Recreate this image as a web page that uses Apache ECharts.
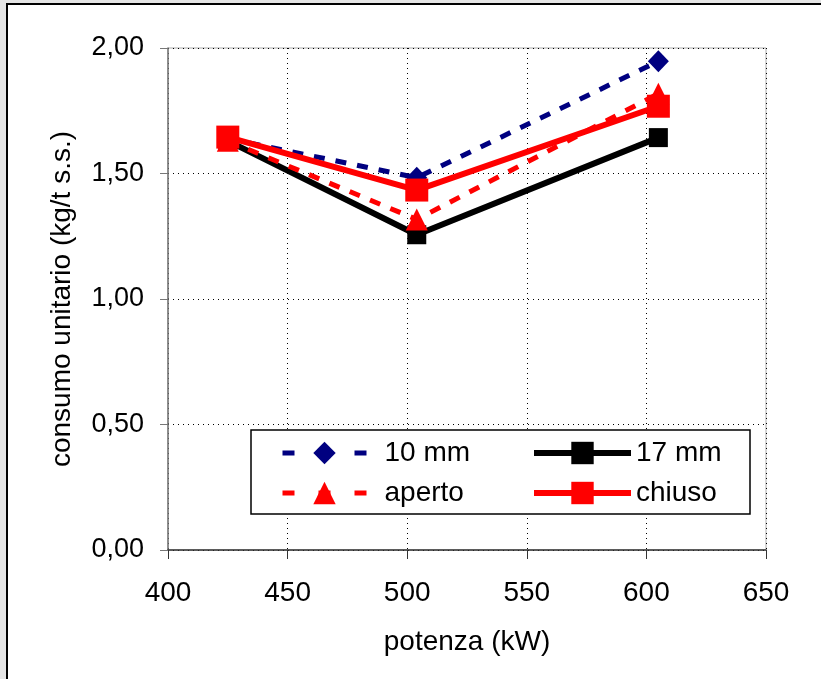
<!DOCTYPE html>
<html>
<head>
<meta charset="utf-8">
<script src="https://cdn.jsdelivr.net/npm/echarts@6/dist/echarts.min.js"></script>
<style>
  html, body { margin: 0; padding: 0; background: #e4e4e4; }
  #frame { position: absolute; left: 6px; top: 3px; width: 821px; height: 679px;
           background: #fff; border-left: 2px solid #000; border-top: 2px solid #000; }
  #chart { position: absolute; left: 0; top: 0; width: 821px; height: 679px; }
</style>
</head>
<body>
<div id="frame"></div>
<div id="chart"></div>
<script>
// dati
var potenza = [425, 504, 605]
var serie10mm = [1.64, 1.483, 1.947]
var serie17mm = [1.63, 1.256, 1.643]
var serieAperto = [1.63, 1.317, 1.818]
var serieChiuso = [1.645, 1.434, 1.768]
var nomi = ['10 mm', '17 mm', 'aperto', 'chiuso']

function punti (ys) {
  return potenza.map(function (x, i) { return [x, ys[i]] })
}

var font = 'Liberation Sans, Arial, sans-serif'
var chart = echarts.init(document.getElementById('chart'))

chart.setOption({
  backgroundColor: 'transparent',
  animation: false,
  grid: {
    left: 168, right: 55, top: 48, bottom: 129,
    show: true, borderColor: '#aaa', borderWidth: 1
  },
  graphic: [{
    type: 'rect',
    z: 3,
    shape: { x: 251, y: 430, width: 499, height: 84 },
    style: { fill: '#fff', stroke: '#000', lineWidth: 1.5 }
  }],
  legend: [{
    data: [nomi[0], nomi[2]],
    orient: 'vertical',
    left: 275, top: 434,
    itemWidth: 84, itemHeight: 28, itemGap: 12,
    z: 10,
    lineStyle: { width: 5, type: [12, 24] },
    textStyle: { fontFamily: font, fontSize: 28, color: '#000', padding: [0, 0, 0, 13] }
  }, {
    data: [nomi[1], nomi[3]],
    orient: 'vertical',
    left: 526, top: 434,
    itemWidth: 97, itemHeight: 28, itemGap: 12,
    z: 10,
    lineStyle: { width: 6 },
    textStyle: { fontFamily: font, fontSize: 28, color: '#000' }
  }],
  xAxis: {
    type: 'value',
    min: 400, max: 650, interval: 50,
    name: 'potenza (kW)',
    nameLocation: 'middle',
    nameGap: 78,
    nameTextStyle: { fontFamily: font, fontSize: 28, color: '#000' },
    axisLine: { lineStyle: { color: '#333', width: 1.5 } },
    axisTick: { show: true, length: 9, lineStyle: { color: '#333' } },
    axisLabel: { fontFamily: font, fontSize: 28, color: '#000', margin: 29 },
    splitLine: { show: true, lineStyle: { color: '#000', type: [1, 4], width: 1 } }
  },
  yAxis: {
    type: 'value',
    min: 0, max: 2, interval: 0.5,
    name: 'consumo unitario (kg/t s.s.)',
    nameLocation: 'middle',
    nameGap: 92,
    nameTextStyle: { fontFamily: font, fontSize: 28, color: '#000' },
    axisLine: { show: true, lineStyle: { color: '#777', width: 1.5 } },
    axisTick: { show: true, length: 8, lineStyle: { color: '#777' } },
    axisLabel: {
      fontFamily: font, fontSize: 27, color: '#000', margin: 24,
      formatter: function (v) { return v.toFixed(2).replace('.', ',') }
    },
    splitLine: { show: true, lineStyle: { color: '#000', type: [1, 4], width: 1 } }
  },
  series: [{
    name: nomi[0],
    type: 'line',
    data: punti(serie10mm),
    symbol: 'diamond', symbolSize: [21, 22],
    itemStyle: { color: '#000080' },
    lineStyle: { color: '#000080', width: 5, type: [11, 11] }
  }, {
    name: nomi[1],
    type: 'line',
    data: punti(serie17mm),
    symbol: 'rect', symbolSize: 19,
    itemStyle: { color: '#000' },
    lineStyle: { color: '#000', width: 6 }
  }, {
    name: nomi[2],
    type: 'line',
    data: punti(serieAperto),
    symbol: 'triangle', symbolSize: [22, 22],
    itemStyle: { color: '#ff0000' },
    lineStyle: { color: '#ff0000', width: 5, type: [11, 11] }
  }, {
    name: nomi[3],
    type: 'line',
    data: punti(serieChiuso),
    symbol: 'rect', symbolSize: 23,
    itemStyle: { color: '#ff0000' },
    lineStyle: { color: '#ff0000', width: 6 }
  }]
})
</script>
</body>
</html>
